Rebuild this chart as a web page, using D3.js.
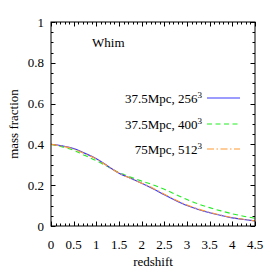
<!DOCTYPE html>
<html>
<head>
<meta charset="utf-8">
<script src="https://cdn.jsdelivr.net/npm/d3@7"></script>
<style>
  body { margin: 0; background: #fff; }
</style>
</head>
<body>
<div id="container"></div>
<script>
// redshift samples
const redshift = [0, 0.25, 0.5, 0.75, 1, 1.25, 1.5, 1.75, 2, 2.25, 2.5, 2.75, 3, 3.25, 3.5, 3.75, 4, 4.25, 4.5];

// whim mass fraction per run
const run256 = [0.401, 0.393, 0.380, 0.356, 0.330, 0.294, 0.259, 0.234, 0.210, 0.183, 0.153, 0.125, 0.100, 0.081, 0.065, 0.052, 0.040, 0.032, 0.025];
const run400 = [0.400, 0.388, 0.372, 0.345, 0.320, 0.291, 0.262, 0.240, 0.220, 0.202, 0.180, 0.155, 0.130, 0.108, 0.090, 0.074, 0.060, 0.048, 0.038];
const run512 = [0.400, 0.391, 0.377, 0.354, 0.328, 0.293, 0.259, 0.234, 0.210, 0.185, 0.156, 0.128, 0.103, 0.083, 0.067, 0.053, 0.041, 0.033, 0.025];

const seriesNames = ["37.5Mpc, 256", "37.5Mpc, 400", "75Mpc, 512"];
const xTicks = [0, 0.5, 1, 1.5, 2, 2.5, 3, 3.5, 4, 4.5];
const yTicks = [0, 0.2, 0.4, 0.6, 0.8, 1];

const width = 274, height = 274;
const margin = { left: 51, top: 22, right: 19, bottom: 48 };
const plotW = width - margin.left - margin.right;
const plotH = height - margin.top - margin.bottom;
const serif = "'Liberation Serif'";

const svg = d3.select("#container").append("svg")
  .attr("width", width).attr("height", height);

const x = d3.scaleLinear().domain([0, 4.5]).range([margin.left, margin.left + plotW]);
const y = d3.scaleLinear().domain([0, 1]).range([margin.top + plotH, margin.top]);

// minor ticks
const xMinor = d3.range(0, 4.5001, 0.1);
const yMinor = d3.range(0, 1.0001, 0.05);

const g = svg.append("g").attr("stroke", "#000").attr("stroke-width", 1);
const isMajorX = v => Math.abs(v * 2 - Math.round(v * 2)) < 1e-6;
const isMajorY = v => Math.abs(v * 5 - Math.round(v * 5)) < 1e-6;
xMinor.forEach(v => {
  const len = isMajorX(v) ? 4.5 : 2.5;
  const px = Math.round(x(v)) + 0.5;
  g.append("line").attr("x1", px).attr("x2", px).attr("y1", y(0)).attr("y2", y(0) - len);
  g.append("line").attr("x1", px).attr("x2", px).attr("y1", y(1)).attr("y2", y(1) + len);
});
yMinor.forEach(v => {
  const len = isMajorY(v) ? 4.5 : 2.5;
  const py = Math.round(y(v)) + 0.5;
  g.append("line").attr("x1", x(0)).attr("x2", x(0) + len).attr("y1", py).attr("y2", py);
  g.append("line").attr("x1", x(4.5)).attr("x2", x(4.5) - len).attr("y1", py).attr("y2", py);
});

// curves
const colours = ["#3a3aff", "#22ee22", "#ff9933"];
const dashes = [null, "5,3.5", "7,2.5,1.5,2.5"];
const series = [run256, run400, run512];
const line = d3.line()
  .x((d, i) => x(redshift[i]))
  .y(d => y(d))
  .curve(d3.curveMonotoneX);
[1, 0, 2].forEach(k => {
  svg.append("path")
    .datum(series[k])
    .attr("d", line)
    .attr("fill", "none")
    .attr("stroke", colours[k])
    .attr("stroke-width", 1.1)
    .attr("stroke-dasharray", dashes[k]);
});

// frame
svg.append("rect")
  .attr("x", x(0)).attr("y", y(1))
  .attr("width", plotW).attr("height", plotH)
  .attr("fill", "none").attr("stroke", "#000").attr("stroke-width", 1);

// tick labels
svg.append("g").selectAll("text").data(xTicks).join("text")
  .attr("x", d => x(d)).attr("y", 249)
  .attr("text-anchor", "middle").attr("font-size", 13)
  .style("font-family", serif)
  .text(d => d);
svg.append("g").selectAll("text").data(yTicks).join("text")
  .attr("x", 44).attr("y", d => y(d) + 4.5)
  .attr("text-anchor", "end").attr("font-size", 13)
  .style("font-family", serif)
  .text(d => d);

// axis titles
svg.append("text").attr("x", 153).attr("y", 266)
  .attr("text-anchor", "middle").attr("font-size", 13)
  .style("font-family", serif).text("redshift");
svg.append("text")
  .attr("transform", "translate(18," + (margin.top + plotH / 2) + ") rotate(-90)")
  .attr("text-anchor", "middle").attr("font-size", 13)
  .style("font-family", serif).text("mass fraction");

// label
svg.append("text").attr("x", 92).attr("y", 47).attr("font-size", 13)
  .style("font-family", serif).text("Whim");

// legend
const legendY = [98, 124, 149];
seriesNames.forEach((name, k) => {
  const t = svg.append("text").attr("x", 202).attr("y", legendY[k] + 4.5)
    .attr("text-anchor", "end").attr("font-size", 13)
    .style("font-family", serif);
  t.append("tspan").text(name);
  t.append("tspan").attr("font-size", 9).attr("dy", -5).text("3");
  svg.append("line")
    .attr("x1", 207).attr("x2", 240)
    .attr("y1", legendY[k]).attr("y2", legendY[k])
    .attr("stroke", colours[k]).attr("stroke-width", 1.1)
    .attr("stroke-dasharray", dashes[k]);
});
</script>
</body>
</html>
